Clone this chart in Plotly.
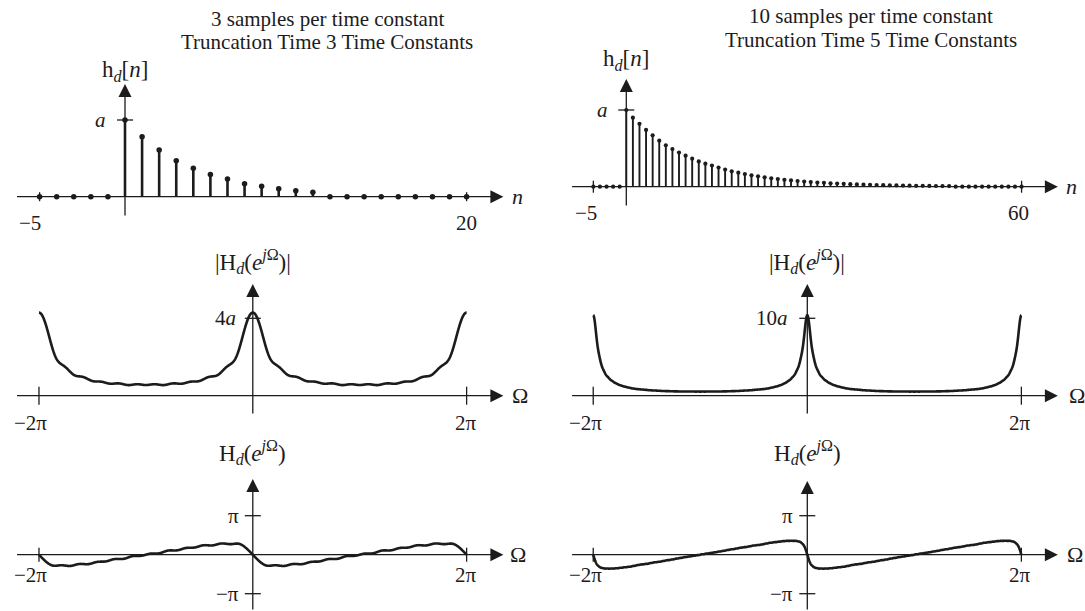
import numpy as np
import plotly.graph_objects as go

W, H = 1085, 611
INK = "#1d1b1c"
FONT = "Liberation Serif"

# ---- data (heights in units of a) ----
n_left = list(range(-5, 21))
h_left_pos = [1.00, 0.78, 0.61, 0.47, 0.37, 0.29, 0.23, 0.17, 0.135, 0.104, 0.078, 0.057]

n_right = list(range(-5, 61))
h_right_pos = [1.00, 0.90, 0.82, 0.74, 0.67, 0.60, 0.54, 0.49, 0.445, 0.405,
               0.365, 0.33, 0.30, 0.275, 0.25, 0.223, 0.20, 0.183, 0.165, 0.148,
               0.135, 0.122, 0.11, 0.10, 0.09, 0.082, 0.074, 0.067, 0.061, 0.055,
               0.05, 0.045, 0.041, 0.037, 0.033, 0.030, 0.027, 0.025, 0.022, 0.020,
               0.018, 0.017, 0.015, 0.014, 0.012, 0.011, 0.010, 0.009, 0.008, 0.0075]

left_title = ["3 samples per time constant", "Truncation Time 3 Time Constants"]
right_title = ["10 samples per time constant", "Truncation Time 5 Time Constants"]

n_ticks_left = [(-5, "\u22125"), (20, "20")]
n_ticks_right = [(-5, "\u22125"), (60, "60")]
w_ticks = [(-2 * np.pi, "\u22122\u03c0"), (2 * np.pi, "2\u03c0")]
mag_tick_left = (4, "4<i>a</i>")
mag_tick_right = (10, "10<i>a</i>")
phase_ticks = [(np.pi, "\u03c0"), (-np.pi, "\u2212\u03c0")]


def seq(ns, pos):
    return [pos[n] if 0 <= n < len(pos) else 0.0 for n in ns]


h_left = seq(n_left, h_left_pos)
h_right = seq(n_right, h_right_pos)

# frequency response of the stem data
omega = np.linspace(-2 * np.pi, 2 * np.pi, 2401)


def dtft(ns, hs):
    ns = np.array(ns)
    hs = np.array(hs)
    return (hs[None, :] * np.exp(-1j * omega[:, None] * ns[None, :])).sum(axis=1)


H_left = dtft(n_left, h_left)
H_right = dtft(n_right, h_right)

# ---- panel geometry in pixels: origin, scale, box ----
panels = {
    1: dict(x0=125.0, sx=17.08, y0=196.7, sy=76.7, box=(0, 540, 0, 232)),
    2: dict(x0=626.3, sx=6.588, y0=186.7, sy=76.7, box=(540, 1085, 0, 232)),
    3: dict(x0=252.8, sx=34.03, y0=395.7, sy=19.35, box=(0, 540, 232, 432)),
    4: dict(x0=807.3, sx=34.07, y0=395.7, sy=7.74, box=(540, 1085, 232, 432)),
    5: dict(x0=252.8, sx=34.03, y0=554.7, sy=39.0 / np.pi, box=(0, 540, 432, 611)),
    6: dict(x0=807.3, sx=34.07, y0=554.7, sy=39.0 / np.pi, box=(540, 1085, 432, 611)),
}

fig = go.Figure()
annotations = []
shapes = []


def refs(i):
    return ("x" if i == 1 else f"x{i}"), ("y" if i == 1 else f"y{i}")


def dx(i, px):
    p = panels[i]
    return (px - p["x0"]) / p["sx"]


def dy(i, py):
    p = panels[i]
    return (p["y0"] - py) / p["sy"]


for i, p in panels.items():
    L, R, T, B = p["box"]
    xa = dict(domain=[L / W, R / W], range=[dx(i, L), dx(i, R)], visible=False, fixedrange=True)
    ya = dict(domain=[1 - B / H, 1 - T / H], range=[dy(i, B), dy(i, T)], visible=False, fixedrange=True)
    key = "" if i == 1 else str(i)
    fig.layout["xaxis" + key] = xa
    fig.layout["yaxis" + key] = ya
    if i > 1:
        fig.layout["xaxis" + key]["anchor"] = "y" + key
        fig.layout["yaxis" + key]["anchor"] = "x" + key


def text(i, px, py, s, size=20, xanchor="center"):
    xr, yr = refs(i)
    annotations.append(dict(x=dx(i, px), y=dy(i, py), xref=xr, yref=yr, text=s, showarrow=False,
                            xanchor=xanchor, yanchor="middle",
                            font=dict(family=FONT, size=size, color=INK)))


def arrow(i, px0, py0, px1, py1):
    xr, yr = refs(i)
    annotations.append(dict(x=dx(i, px1), y=dy(i, py1), ax=dx(i, px0), ay=dy(i, py0),
                            xref=xr, yref=yr, axref=xr, ayref=yr, text="", showarrow=True,
                            arrowhead=2, arrowsize=2.0, arrowwidth=1.3, arrowcolor=INK, standoff=0,
                            font=dict(family=FONT, size=20, color=INK)))


def seg(i, x0, y0, x1, y1):
    xr, yr = refs(i)
    shapes.append(dict(type="line", xref=xr, yref=yr, x0=x0, y0=y0, x1=x1, y1=y1,
                       line=dict(color=INK, width=1.3)))


def axes(i, left_px, tip_px, bottom_px, top_px, xlabel, xlabel_px, ylabel, ylabel_py):
    p = panels[i]
    arrow(i, left_px, p["y0"], tip_px, p["y0"])
    arrow(i, p["x0"], bottom_px, p["x0"], top_px)
    text(i, xlabel_px, p["y0"], xlabel, size=22)
    text(i, p["x0"], ylabel_py, ylabel, size=23)


def xtick(i, val, label, half, label_px, label_py):
    p = panels[i]
    seg(i, val, dy(i, p["y0"] - half), val, dy(i, p["y0"] + half))
    text(i, label_px, label_py, label, size=21)


def ytick(i, val, label, label_px):
    p = panels[i]
    seg(i, dx(i, p["x0"] - 8), val, dx(i, p["x0"] + 8), val)
    text(i, label_px, p["y0"] - val * p["sy"], label, size=21, xanchor="right")


def stems(i, ns, hs, width, msize):
    xr, yr = refs(i)
    xs, ys = [], []
    for n, h in zip(ns, hs):
        if h > 0:
            xs += [n, n, None]
            ys += [0, h, None]
    fig.add_trace(go.Scatter(x=xs, y=ys, mode="lines", line=dict(color=INK, width=width),
                             xaxis=xr, yaxis=yr, cliponaxis=False, showlegend=False, hoverinfo="skip"))
    fig.add_trace(go.Scatter(x=ns, y=hs, mode="markers", marker=dict(color=INK, size=msize),
                             xaxis=xr, yaxis=yr, cliponaxis=False, showlegend=False))


def curve(i, ys):
    xr, yr = refs(i)
    fig.add_trace(go.Scatter(x=omega, y=ys, mode="lines",
                             line=dict(color=INK, width=2.6, simplify=False),
                             xaxis=xr, yaxis=yr, cliponaxis=False, showlegend=False))


hd = "h<sub><i>d</i></sub>[<i>n</i>]"
mag = "|H<sub><i>d</i></sub>(<i>e</i><sup><i>j</i>\u03a9</sup>)|"
ph = "H<sub><i>d</i></sub>(<i>e</i><sup><i>j</i>\u03a9</sup>)"

# top row: impulse responses
stems(1, n_left, h_left, 2.6, 5.5)
axes(1, 15.5, 503.4, 217, 84, "<i>n</i>", 517, hd, 71)
xtick(1, n_ticks_left[0][0], n_ticks_left[0][1], 4.5, 30, 223)
xtick(1, n_ticks_left[1][0], n_ticks_left[1][1], 4.5, 466.6, 223)
ytick(1, 1, "<i>a</i>", 108)
text(1, 327, 19, left_title[0], size=21)
text(1, 327, 42, left_title[1], size=21)

stems(2, n_right, h_right, 1.9, 4.2)
axes(2, 570.6, 1057.9, 207, 79, "<i>n</i>", 1071, hd, 60)
xtick(2, n_ticks_right[0][0], n_ticks_right[0][1], 6, 586, 213)
xtick(2, n_ticks_right[1][0], n_ticks_right[1][1], 6, 1018.6, 213)
ytick(2, 1, "<i>a</i>", 610)
text(2, 871, 16, right_title[0], size=21)
text(2, 871, 40, right_title[1], size=21)

# middle row: magnitude
for i, Hw, mt, lp in [(3, H_left, mag_tick_left, 238), (4, H_right, mag_tick_right, 790)]:
    curve(i, np.abs(Hw))
    left_px = 15.5 if i == 3 else 570.6
    tip_px = 503.4 if i == 3 else 1057.9
    om_px = 520 if i == 3 else 1077
    axes(i, left_px, tip_px, 415, 284, "\u03a9", om_px, mag, 261)
    for (v, s), lx in zip(w_ticks, ([30.3, 465.6] if i == 3 else [585, 1019.7])):
        xtick(i, v, s, 9, lx, 423)
    ytick(i, mt[0], mt[1], lp)

# bottom row: phase
for i, Hw in [(5, H_left), (6, H_right)]:
    curve(i, np.angle(Hw))
    left_px = 15.5 if i == 5 else 570.6
    tip_px = 503.4 if i == 5 else 1057.9
    om_px = 518 if i == 5 else 1075
    p = panels[i]
    axes(i, left_px, tip_px, 611, 479 if i == 5 else 481, "\u03a9", om_px, ph, 452)
    for (v, s), lx in zip(w_ticks, ([30.3, 465.6] if i == 5 else [585, 1019.7])):
        xtick(i, v, s, 7, lx, 575)
    for v, s in phase_ticks:
        ytick(i, v, s, p["x0"] - 12)

fig.update_layout(
    width=W, height=H,
    margin=dict(l=0, r=0, t=0, b=0, pad=0),
    paper_bgcolor="white", plot_bgcolor="white",
    showlegend=False,
    annotations=annotations,
    shapes=shapes,
    font=dict(family=FONT, color=INK, size=20),
)

fig.write_html("out.html", config={"displayModeBar": False},
               post_script="document.body.style.margin='0';document.body.style.overflow='hidden';")
